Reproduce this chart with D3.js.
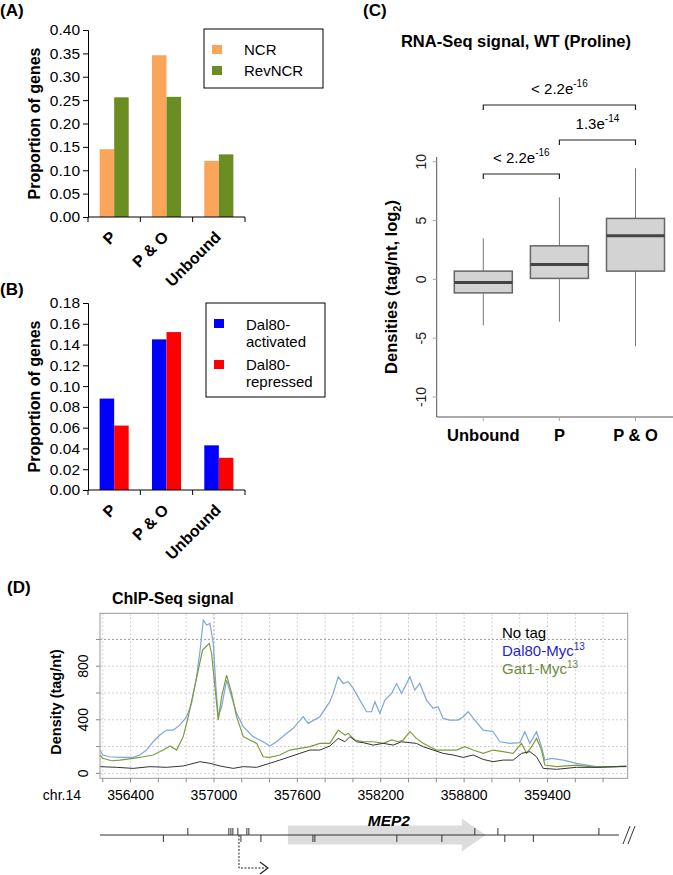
<!DOCTYPE html>
<html><head><meta charset="utf-8">
<script src="https://cdn.jsdelivr.net/npm/d3@7"></script>
<style>
body{margin:0;background:#fff;}
text{font-family:"Liberation Sans",Arial,sans-serif;}
</style></head>
<body><svg id="fig" width="673" height="875"></svg>
<script>
// ---------- DATA ----------
// Panel A
const catsAB = ["P", "P & O", "Unbound"];
const seriesA = ["NCR", "RevNCR"];
const ncrVals = [0.145, 0.346, 0.120];
const revNcrVals = [0.256, 0.257, 0.134];
const ticksA = [0, 0.05, 0.10, 0.15, 0.20, 0.25, 0.30, 0.35, 0.40];
// Panel B
const seriesB = ["Dal80-activated", "Dal80-repressed"];
const activatedVals = [0.088, 0.145, 0.043];
const repressedVals = [0.062, 0.152, 0.031];
const ticksB = [0, 0.02, 0.04, 0.06, 0.08, 0.10, 0.12, 0.14, 0.16, 0.18];
// Panel C (box plot statistics, log2 tag/nt)
const catsC = ["Unbound", "P", "P & O"];
const whiskerLo = [-3.9, -3.6, -5.69];
const q1 = [-1.15, 0.08, 0.70];
const median = [-0.26, 1.27, 3.70];
const q3 = [0.70, 2.85, 5.18];
const whiskerHi = [3.48, 6.97, 9.44];
const ticksC = [-10, -5, 0, 5, 10];
const comparisons = [
  {a: "Unbound", b: "P", p: "< 2.2e", exp: "-16"},
  {a: "P", b: "P & O", p: "1.3e", exp: "-14"},
  {a: "Unbound", b: "P & O", p: "< 2.2e", exp: "-16"}
];
// Panel D (position bp, density tag/nt)
const dal80Signal = [[356180,174],[356200,137],[356250,124],[356323,119],[356371,119],[356419,119],[356467,137],[356515,174],[356563,236],[356611,286],[356659,323],[356707,323],[356755,360],[356803,423],[356839,522],[356875,721],[356899,908],[356923,1144],[356947,1107],[356971,1119],[356995,970],[357014,647],[357031,423],[357055,497],[357091,696],[357127,572],[357163,448],[357211,348],[357282,274],[357354,236],[357402,204],[357450,236],[357522,298],[357570,336],[357642,423],[357678,373],[357762,423],[357834,535],[357858,597],[357894,721],[357930,671],[357966,684],[358002,634],[358050,547],[358098,460],[358134,460],[358158,535],[358194,448],[358230,547],[358278,597],[358314,671],[358350,597],[358410,721],[358445,622],[358481,671],[358529,547],[358577,485],[358613,497],[358649,410],[358697,398],[358757,398],[358793,423],[358829,460],[358877,398],[358937,323],[359009,311],[359057,236],[359129,224],[359201,229],[359237,311],[359273,224],[359321,311],[359357,199],[359381,99],[359429,112],[359513,99],[359608,75],[359752,50],[359896,50],[359968,55]];
const gat1Signal = [[356180,137],[356200,112],[356263,94],[356323,99],[356419,112],[356491,124],[356563,137],[356635,174],[356683,204],[356731,174],[356779,274],[356815,423],[356851,597],[356887,771],[356918,920],[356942,945],[356966,970],[356983,895],[357007,647],[357031,398],[357055,572],[357091,734],[357127,597],[357163,423],[357211,274],[357259,249],[357307,224],[357354,124],[357402,119],[357474,137],[357546,174],[357618,187],[357690,199],[357762,224],[357834,224],[357894,323],[357942,286],[357966,298],[358014,249],[358074,236],[358146,236],[358218,224],[358278,249],[358326,236],[358362,249],[358410,311],[358457,261],[358505,224],[358553,199],[358601,174],[358673,174],[358745,174],[358805,199],[358865,174],[358937,149],[359009,174],[359081,162],[359153,149],[359213,224],[359249,149],[359285,199],[359321,261],[359357,174],[359381,62],[359465,50],[359608,62],[359752,45],[359896,50],[359968,55]];
const noTagSignal = [[356180,50],[356299,45],[356419,37],[356539,50],[356659,45],[356779,55],[356899,87],[356971,75],[357043,55],[357139,37],[357211,50],[357307,45],[357402,75],[357474,99],[357546,124],[357618,149],[357690,174],[357762,174],[357834,204],[357894,261],[357942,236],[357978,274],[358026,236],[358074,229],[358146,211],[358218,224],[358290,211],[358350,236],[358410,229],[358457,224],[358505,199],[358577,174],[358649,149],[358721,137],[358793,119],[358865,137],[358937,104],[359009,87],[359081,99],[359153,99],[359213,149],[359273,162],[359321,124],[359369,37],[359465,30],[359608,45],[359752,45],[359896,50],[359968,50]];
const ticksDx = [356400, 357000, 357600, 358200, 358800, 359400];
const ticksDy = [0, 400, 800];
// Gene track (bp)
const gene = {name: "MEP2", start: 357532, headStart: 358783, end: 358956};
const sitesTop = [356812, 357107, 357122, 357136, 357172, 357237, 357251, 358877, 359043, 359770];
const sitesBottom = [356636, 357194, 357338, 357712, 357726, 358316, 358640, 359093, 359298];
const tss = 357180;

// ---------- DRAW ----------
const svg = d3.select("#fig");
const FONT = "'Liberation Sans', Arial, sans-serif";
function label(t, x, y, size, weight, anchor) {
  return svg.append("text").attr("x", x).attr("y", y).attr("font-size", size)
    .attr("font-weight", weight || "normal").attr("text-anchor", anchor || "start").text(t);
}

function barPanel(opts) {
  const {letter, letterY, yTop, yBot, ticks, domMax, series, vals, colors, legend} = opts;
  const x0 = 88, x1 = 245;
  const x = d3.scaleBand().domain(catsAB).range([x0, x1]).paddingInner(0).paddingOuter(0);
  const xs = d3.scaleBand().domain(series).range([0, x.bandwidth()]).paddingInner(0).paddingOuter(0.8);
  const y = d3.scaleLinear().domain([0, domMax]).range([yBot, yTop]);
  label(letter, 0, letterY, 17, "bold");
  const g = svg.append("g");
  series.forEach((s, si) => {
    g.selectAll(null).data(catsAB).enter().append("rect")
      .attr("x", c => x(c) + xs(s)).attr("width", xs.bandwidth())
      .attr("y", (c, i) => y(vals[si][i])).attr("height", (c, i) => yBot - y(vals[si][i]))
      .attr("fill", colors[si]);
  });
  const ax = svg.append("g").attr("transform", `translate(${x0},0)`)
    .call(d3.axisLeft(y).tickValues(ticks).tickFormat(d3.format(".2f")).tickSize(5).tickPadding(3));
  ax.selectAll("text").attr("font-size", 15.5).attr("font-family", FONT).attr("fill", "#000");
  ax.selectAll("line,path").attr("stroke", "#000");
  svg.append("line").attr("x1", x0).attr("x2", x1).attr("y1", yBot).attr("y2", yBot).attr("stroke", "#000");
  const bounds = catsAB.map(c => x(c)).concat([x1]);
  svg.selectAll(null).data(bounds).enter().append("line")
    .attr("x1", d => d).attr("x2", d => d).attr("y1", yBot).attr("y2", yBot + 5).attr("stroke", "#000");
  svg.selectAll(null).data(catsAB).enter().append("text")
    .attr("transform", c => `translate(${x(c) + x.bandwidth() / 2 + 3},${yBot + 21}) rotate(-45)`)
    .attr("text-anchor", "end").attr("font-size", 16).attr("font-weight", "bold").text(c => c);
  svg.append("text").attr("transform", `translate(40,${(yTop + yBot) / 2}) rotate(-90)`)
    .attr("text-anchor", "middle").attr("font-size", 16).attr("font-weight", "bold").text("Proportion of genes");
  svg.append("rect").attr("x", legend.x).attr("y", legend.y).attr("width", legend.w).attr("height", legend.h)
    .attr("fill", "#fff").attr("stroke", "#000").attr("stroke-width", 1);
  legend.items.forEach((it, i) => {
    svg.append("rect").attr("x", legend.x + 8).attr("y", it.sy).attr("width", 10).attr("height", 9).attr("fill", colors[i]);
    it.lines.forEach((ln, j) => label(ln, legend.x + 40, it.ty + j * 17, 15));
  });
}

barPanel({letter: "(A)", letterY: 16, yTop: 30, yBot: 217, ticks: ticksA, domMax: 0.40,
  series: seriesA, vals: [ncrVals, revNcrVals], colors: ["#FBA55B", "#6B8E23"],
  legend: {x: 204, y: 29, w: 119, h: 59, items: [
    {sy: 45, ty: 55, lines: ["NCR"]}, {sy: 66, ty: 76, lines: ["RevNCR"]}]}});

barPanel({letter: "(B)", letterY: 295, yTop: 303, yBot: 490, ticks: ticksB, domMax: 0.18,
  series: seriesB, vals: [activatedVals, repressedVals], colors: ["#0000FF", "#FF0000"],
  legend: {x: 206, y: 303, w: 119, h: 94, items: [
    {sy: 319, ty: 330, lines: ["Dal80-", "activated"]}, {sy: 360, ty: 370, lines: ["Dal80-", "repressed"]}]}});

// ---------- Panel C ----------
(function () {
  label("(C)", 363, 16, 17, "bold");
  label("RNA-Seq signal, WT (Proline)", 516, 47, 16.5, "bold", "middle");
  const y = d3.scaleLinear().domain([-11.7, 10.4]).range([417, 157]);
  const x = d3.scalePoint().domain(catsC).range([483.3, 635.5]);
  const bw = 58;
  const ax0 = 436.7;
  svg.append("line").attr("x1", ax0).attr("x2", ax0).attr("y1", 157).attr("y2", 417).attr("stroke", "#555");
  svg.append("line").attr("x1", ax0).attr("x2", 673).attr("y1", 417).attr("y2", 417).attr("stroke", "#555");
  ticksC.forEach(t => {
    svg.append("line").attr("x1", ax0 - 4).attr("x2", ax0).attr("y1", y(t)).attr("y2", y(t)).attr("stroke", "#aaa");
    svg.append("text").attr("transform", `translate(426,${y(t)}) rotate(-90)`).attr("text-anchor", "middle")
      .attr("font-size", 14).attr("fill", "#222").text(t);
  });
  catsC.forEach((c, i) => {
    const cx = x(c);
    svg.append("line").attr("x1", cx).attr("x2", cx).attr("y1", 417).attr("y2", 421).attr("stroke", "#aaa");
    svg.append("line").attr("x1", cx).attr("x2", cx).attr("y1", y(whiskerHi[i])).attr("y2", y(q3[i])).attr("stroke", "#777");
    svg.append("line").attr("x1", cx).attr("x2", cx).attr("y1", y(q1[i])).attr("y2", y(whiskerLo[i])).attr("stroke", "#777");
    svg.append("rect").attr("x", cx - bw / 2).attr("width", bw).attr("y", y(q3[i])).attr("height", y(q1[i]) - y(q3[i]))
      .attr("fill", "#D3D3D3").attr("stroke", "#666").attr("stroke-width", 1.5);
    svg.append("line").attr("x1", cx - bw / 2).attr("x2", cx + bw / 2).attr("y1", y(median[i])).attr("y2", y(median[i]))
      .attr("stroke", "#444").attr("stroke-width", 3);
    svg.append("text").attr("x", cx).attr("y", 441).attr("text-anchor", "middle").attr("font-size", 16.5)
      .attr("font-weight", "bold").text(c);
  });
  svg.append("text").attr("transform", `translate(397,287) rotate(-90)`).attr("text-anchor", "middle")
    .attr("font-size", 16.5).attr("font-weight", "bold")
    .call(t => { t.append("tspan").text("Densities (tag/nt, log");
      t.append("tspan").attr("font-size", 11).attr("dy", 4).text("2");
      t.append("tspan").attr("dy", -4).text(")"); });
  const levels = [174, 140, 105];
  comparisons.forEach((cmp, i) => {
    const xa = x(cmp.a), xb = x(cmp.b), ly = levels[i];
    svg.append("path").attr("d", `M${xa},${ly + 5}V${ly}H${xb}V${ly + 5}`).attr("fill", "none").attr("stroke", "#222").attr("stroke-width", 1.2);
    const t = svg.append("text").attr("x", (xa + xb) / 2).attr("y", ly - 11).attr("text-anchor", "middle").attr("font-size", 15);
    t.append("tspan").text(cmp.p);
    t.append("tspan").attr("font-size", 10).attr("dy", -7).text(cmp.exp);
  });
})();

// ---------- Panel D ----------
(function () {
  label("(D)", 7, 593, 17, "bold");
  label("ChIP-Seq signal", 112, 604, 16, "bold");
  const L = 100, R = 627.7, T = 613.3, B = 778.3;
  const x = d3.scaleLinear().domain([356180, 359977]).range([L, R]);
  const y = d3.scaleLinear().domain([-37, 1195]).range([B, T]);
  const gx = d3.range(356200, 359977, 200);
  const gy = d3.range(0, 1195, 200);
  svg.selectAll(null).data(gx).enter().append("line").attr("x1", d => x(d)).attr("x2", d => x(d))
    .attr("y1", T).attr("y2", B).attr("stroke", d => d === 357000 ? "#9a9a9a" : "#cfcfcf").attr("stroke-dasharray", "2,2");
  svg.selectAll(null).data(gy).enter().append("line").attr("x1", L).attr("x2", R)
    .attr("y1", d => y(d)).attr("y2", d => y(d)).attr("stroke", d => d === 1000 ? "#9a9a9a" : "#cfcfcf").attr("stroke-dasharray", "2,2");
  svg.selectAll(null).data(gx).enter().append("line").attr("x1", d => x(d)).attr("x2", d => x(d))
    .attr("y1", B).attr("y2", B + 4).attr("stroke", "#888");
  svg.selectAll(null).data(gy).enter().append("line").attr("x1", L - 4).attr("x2", L)
    .attr("y1", d => y(d)).attr("y2", d => y(d)).attr("stroke", "#888");
  const line = d3.line().x(d => x(d[0])).y(d => y(d[1]));
  [[dal80Signal, "#7FA6DE", 1.2], [gat1Signal, "#7E9C3C", 1.2], [noTagSignal, "#333", 1.0]].forEach(([d, c, w]) => {
    svg.append("path").datum(d).attr("d", line).attr("fill", "none").attr("stroke", c).attr("stroke-width", w);
  });
  svg.append("rect").attr("x", L).attr("y", T).attr("width", R - L).attr("height", B - T)
    .attr("fill", "none").attr("stroke", "#999");
  ticksDx.forEach(t => svg.append("text").attr("x", x(t)).attr("y", 800).attr("text-anchor", "middle").attr("font-size", 14).text(t));
  label("chr.14", 81, 800, 14, "normal", "end");
  ticksDy.forEach(t => svg.append("text").attr("transform", `translate(88,${y(t)}) rotate(-90)`)
    .attr("text-anchor", "middle").attr("font-size", 14).text(t));
  svg.append("text").attr("transform", `translate(61,702) rotate(-90)`).attr("text-anchor", "middle")
    .attr("font-size", 14.5).attr("font-weight", "bold").text("Density (tag/nt)");
  label("No tag", 502, 638, 15).attr("fill", "#000");
  [["Dal80-Myc", "#1F1FCC", 656], ["Gat1-Myc", "#6E8B3D", 674]].forEach(([n, c, yy]) => {
    const t = svg.append("text").attr("x", 502).attr("y", yy).attr("font-size", 15).attr("fill", c);
    t.append("tspan").text(n);
    t.append("tspan").attr("font-size", 10).attr("dy", -6).text("13");
  });
  const gy0 = 835;
  const gxEnd = 619;
  svg.append("path").attr("fill", "#DCDCDC")
    .attr("d", `M${x(gene.start)},${gy0 - 9.5}H${x(gene.headStart)}V${gy0 - 16.5}L${x(gene.end)},${gy0}L${x(gene.headStart)},${gy0 + 16.5}V${gy0 + 9.5}H${x(gene.start)}Z`);
  svg.append("line").attr("x1", L).attr("x2", gxEnd).attr("y1", gy0).attr("y2", gy0).attr("stroke", "#333");
  svg.selectAll(null).data(sitesTop).enter().append("line").attr("x1", d => x(d)).attr("x2", d => x(d))
    .attr("y1", gy0 - 7).attr("y2", gy0).attr("stroke", "#333");
  svg.selectAll(null).data(sitesBottom).enter().append("line").attr("x1", d => x(d)).attr("x2", d => x(d))
    .attr("y1", gy0).attr("y2", gy0 + 7).attr("stroke", "#333");
  svg.append("path").attr("d", `M${gxEnd + 4},${gy0 + 9}L${gxEnd + 11},${gy0 - 9}M${gxEnd + 9},${gy0 + 9}L${gxEnd + 16},${gy0 - 9}`)
    .attr("stroke", "#333").attr("fill", "none");
  svg.append("text").attr("x", (x(gene.start) + x(gene.end)) / 2 + 2).attr("y", 826).attr("text-anchor", "middle")
    .attr("font-size", 15.5).attr("font-weight", "bold").attr("font-style", "italic").text(gene.name);
  const tx = x(tss);
  svg.append("path").attr("d", `M${tx},${gy0}V868H${tx + 27}`).attr("fill", "none").attr("stroke", "#222")
    .attr("stroke-dasharray", "2,1.5");
  svg.append("path").attr("d", `M${tx + 21},${862}L${tx + 29},868L${tx + 21},874`).attr("fill", "none").attr("stroke", "#222").attr("stroke-width", 1.2);
})();
</script></body></html>
